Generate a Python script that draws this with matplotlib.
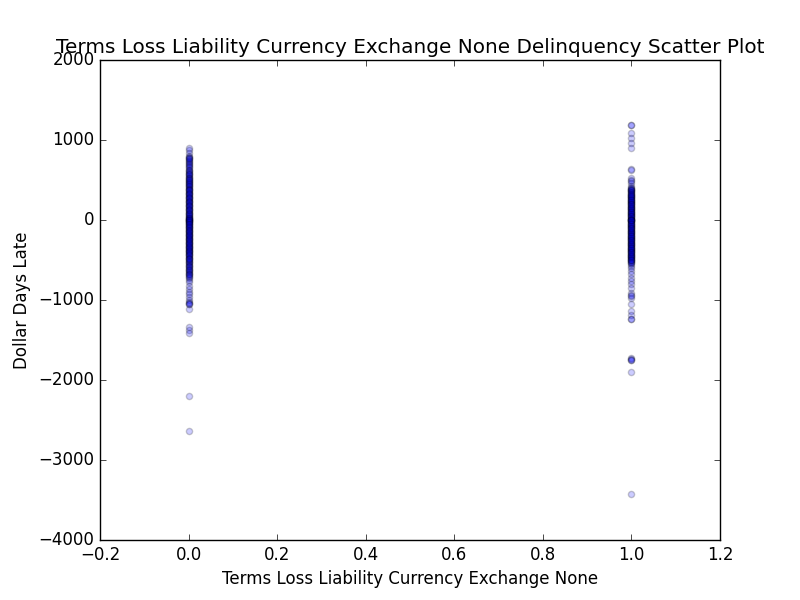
import matplotlib
matplotlib.use('Agg')
import matplotlib.pyplot as plt

plt.style.use('classic')

# dollar days late for loans with the flag off (0) and on (1)
late_flag0 = [900, 870, 840, 800, 790, 770, 750, 730, 710, 690, 670, 650, 630, 610,
              590, 570, 555, 540, 520, 505, 490, 470, 455, 440, 420, 400, 385, 370,
              350, 335, 320, 300, 285, 270, 250, 235, 220, 200, 185, 170, 150, 135,
              120, 100, 85, 70, 55, 40, 25, 10, 0, -10, -25, -40, -55, -70, -85, -100,
              -120, -135, -150, -170, -185, -200, -220, -235, -250, -270, -285, -300,
              -320, -335, -350, -370, -385, -400, -420, -440, -460, -480, -500, -520,
              -540, -560, -580, -600, -620, -640, -660, -680, -700, -720, -750, -780,
              -820, -860, -900, -930, -960, -1000, -1030, -1050, -1110, -1340, -1380,
              -1410, -2200, -2640,
              # the busy core, where the points pile up
              780, 760, 740, 700, 660, 620, 600, 580, 560, 530, 510, 480, 460, 430,
              410, 390, 360, 340, 310, 290, 260, 240, 210, 190, 160, 140, 110, 90, 60,
              45, 30, 15, 5, 0, -5, -15, -30, -45, -60, -80, -95, -110, -130, -145,
              -160, -180, -195, -210, -230, -245, -260, -280, -295, -310, -330, -345,
              -360, -380, -395, -410, -430, -450, -470, -490, -510, -530, -550, -570,
              -590, -610, -630, -650, -670, -690, -710, 500, 450, 380, 330, 280, 230,
              180, 130, 80, 20, -20, -50, -90, -140, -190, -240, -290, -340, -390,
              -440, -490, -1040, -1045]
late_flag1 = [1190, 1190, 1090, 1030, 960, 905, 640, 620, 530, 500, 490, 460, 430,
              400, 390, 375, 360, 345, 330, 315, 300, 285, 270, 255, 240, 225, 210,
              195, 180, 165, 150, 135, 120, 105, 90, 75, 60, 45, 30, 15, 0, -15, -30,
              -45, -60, -75, -90, -105, -120, -135, -150, -165, -180, -195, -210, -225,
              -240, -255, -270, -285, -300, -315, -330, -345, -360, -375, -390, -405,
              -420, -435, -450, -465, -480, -495, -510, -530, -550, -570, -600, -640,
              -680, -720, -760, -800, -850, -910, -940, -970, -1050, -1140, -1190,
              -1240, -1730, -1740, -1745, -1900, -3420,
              # the busy core, where the points pile up
              395, 380, 370, 350, 340, 320, 310, 290, 280, 260, 250, 230, 220, 200,
              190, 170, 160, 140, 130, 110, 100, 80, 70, 50, 40, 20, 10, 5, 0, -5, -10,
              -20, -40, -50, -70, -80, -100, -110, -130, -140, -160, -170, -190, -200,
              -220, -230, -250, -260, -280, -290, -310, -320, -340, -350, -370, -380,
              -400, -410, -430, -440, -460, -470, -490, -500, -520, -540, 300, 250,
              200, 150, 100, 50, 0, -50, -100, -150, -200, -250, -300, -350, -400,
              -450, -500, -1745, -950, -1240]

fig, ax = plt.subplots(figsize=(8, 6), dpi=100)
ax.scatter([0] * len(late_flag0), late_flag0, alpha=0.2)
ax.scatter([1] * len(late_flag1), late_flag1, alpha=0.2)
ax.set_xlim(-0.2, 1.2)
ax.set_ylim(-4000, 2000)
ax.set_xlabel('Terms Loss Liability Currency Exchange None')
ax.set_ylabel('Dollar Days Late')
ax.set_title('Terms Loss Liability Currency Exchange None Delinquency Scatter Plot')
fig.savefig('out.png', dpi=100)
